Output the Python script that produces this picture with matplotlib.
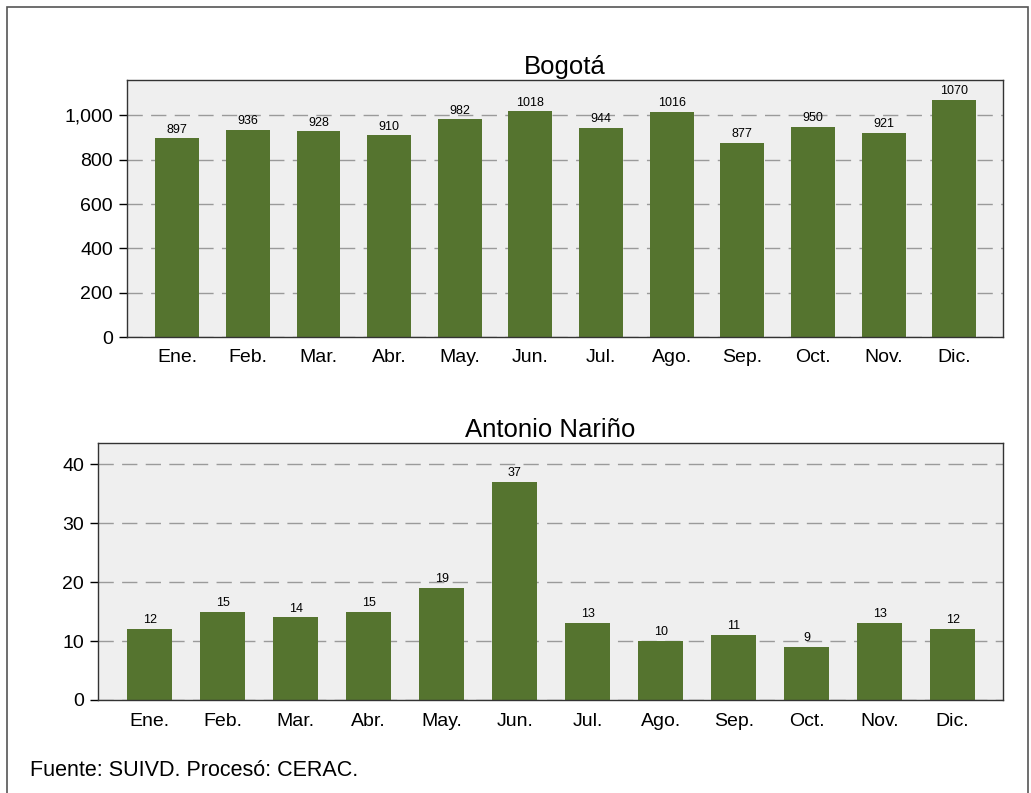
import matplotlib
matplotlib.use('Agg')
from matplotlib import pyplot as plt
from matplotlib.patches import Rectangle

meses = ['Ene.', 'Feb.', 'Mar.', 'Abr.', 'May.', 'Jun.',
         'Jul.', 'Ago.', 'Sep.', 'Oct.', 'Nov.', 'Dic.']
bogota = [897, 936, 928, 910, 982, 1018, 944, 1016, 877, 950, 921, 1070]
antonio_narino = [12, 15, 14, 15, 19, 37, 13, 10, 11, 9, 13, 12]

bar_color = '#55742f'
bg_color = '#efefef'

plt.rcParams['font.family'] = ['Liberation Sans', 'DejaVu Sans']

fig = plt.figure(figsize=(10.31, 7.93), dpi=100)
W, H = 1031, 793


def px_axes(x0, y0, x1, y1):
    return fig.add_axes([x0 / W, 1 - y1 / H, (x1 - x0) / W, (y1 - y0) / H])


def draw_panel(ax, values, title, ylim, yticks, fmt, offset):
    x = range(len(values))
    ax.set_facecolor(bg_color)
    ax.set_axisbelow(True)
    ax.yaxis.grid(True, color='#9a9a9a', linestyle=(0, (11, 6)), linewidth=1)
    ax.bar(x, values, width=0.62, color=bar_color, zorder=2)
    for i, v in zip(x, values):
        ax.text(i, v + offset, str(v), ha='center', va='bottom', fontsize=9)
    ax.set_xlim(-0.71, len(values) - 0.31)
    ax.set_ylim(*ylim)
    ax.set_yticks(yticks)
    ax.set_yticklabels([fmt(t) for t in yticks], fontsize=14)
    ax.set_xticks(list(x))
    ax.set_xticklabels(meses, fontsize=14)
    ax.tick_params(axis='x', length=0, pad=9)
    ax.tick_params(axis='y', length=6, width=1, direction='out', pad=4)
    for s in ax.spines.values():
        s.set_color('#333333')
        s.set_linewidth(1)
    ax.set_title(title, fontsize=18.5, pad=4)


ax1 = px_axes(127, 80, 1003, 337)
draw_panel(ax1, bogota, 'Bogotá', (0, 1160), [0, 200, 400, 600, 800, 1000],
           lambda t: f'{t:,}', 12)

ax2 = px_axes(98, 443, 1003, 700)
draw_panel(ax2, antonio_narino, 'Antonio Nariño', (0, 43.6), [0, 10, 20, 30, 40],
           lambda t: str(t), 0.5)

fig.text(30 / W, 1 - 770 / H, 'Fuente: SUIVD. Procesó: CERAC.', fontsize=15.5,
         va='center', ha='left')

fig.patches.append(Rectangle((7 / W, -0.01), (1028 - 7) / W, 1 - 7 / H + 0.01,
                             transform=fig.transFigure, fill=False,
                             edgecolor='#555555', linewidth=1.2))

fig.savefig('out.png', dpi=100)
